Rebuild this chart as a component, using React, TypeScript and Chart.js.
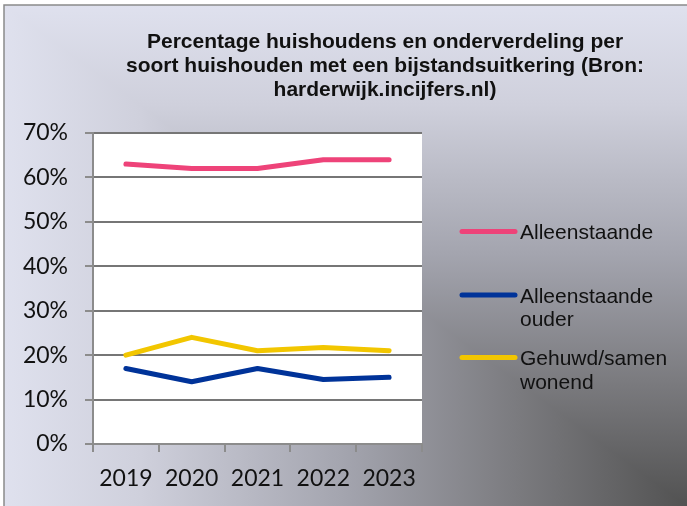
import React, { useEffect, useRef } from 'react';
import { Chart, registerables } from 'chart.js';

Chart.register(...registerables);

const years = ['2019', '2020', '2021', '2022', '2023'];
const alleenstaande = [63, 62, 62, 64, 64];
const alleenstaandeOuder = [17, 14, 17, 14.5, 15];
const gehuwdSamenwonend = [20, 24, 21, 21.7, 21];

const seriesNames = ['Alleenstaande', 'Alleenstaande ouder', 'Gehuwd/samen wonend'];
const legendLines = [['Alleenstaande'], ['Alleenstaande', 'ouder'], ['Gehuwd/samen', 'wonend']];
const seriesColors = ['#ee4379', '#003399', '#f2c600'];

const titleLines = [
  'Percentage huishoudens en onderverdeling per',
  'soort huishouden met een bijstandsuitkering (Bron:',
  'harderwijk.incijfers.nl)',
];

const W = 687;
const H = 506;

const backgroundPlugin = {
  id: 'bgPlugin',
  beforeDraw(chart: any) {
    const ctx = chart.ctx as CanvasRenderingContext2D;
    const x0 = 4;
    const y0 = 5;
    ctx.save();
    ctx.fillStyle = '#ffffff';
    ctx.fillRect(0, 0, W, H);
    const stops: [number, string][] = [
      [0, '#525252'],
      [0.25, '#7b7b7f'],
      [0.5, '#a3a4ae'],
      [0.8, '#cfd0dc'],
      [1, '#dfe1ee'],
    ];
    // whole box: vertical gradient
    const gv = ctx.createLinearGradient(0, H, 0, y0);
    stops.forEach(([t, c]) => gv.addColorStop(t, c));
    ctx.fillStyle = gv;
    ctx.fillRect(x0, y0, W - x0, H - y0);
    // lower-left triangle: horizontal gradient
    ctx.save();
    ctx.beginPath();
    ctx.moveTo(x0, y0);
    ctx.lineTo(x0 - 2, H + 2);
    ctx.lineTo(W, H);
    ctx.closePath();
    ctx.clip();
    const gh = ctx.createLinearGradient(W, 0, x0, 0);
    stops.forEach(([t, c]) => gh.addColorStop(t, c));
    ctx.fillStyle = gh;
    ctx.fillRect(x0, y0, W - x0, H - y0);
    ctx.restore();
    // border
    ctx.strokeStyle = '#8a8a8a';
    ctx.lineWidth = 1.5;
    ctx.beginPath();
    ctx.moveTo(x0, H);
    ctx.lineTo(x0, y0);
    ctx.lineTo(W, y0);
    ctx.stroke();
    // plot area
    const a = chart.chartArea;
    ctx.fillStyle = '#ffffff';
    ctx.fillRect(a.left, a.top, a.right - a.left, a.bottom - a.top);
    ctx.restore();
  },
  afterDraw(chart: any) {
    const ctx = chart.ctx as CanvasRenderingContext2D;
    ctx.save();
    // title
    ctx.fillStyle = '#111111';
    ctx.font = 'bold 21px "Liberation Sans", Arial, sans-serif';
    ctx.textAlign = 'center';
    ctx.textBaseline = 'alphabetic';
    titleLines.forEach((line, i) => {
      ctx.fillText(line, 385, 48 + i * 24);
    });
    // legend
    const legendY = [231.5, 295, 357.5];
    ctx.font = '21px "Liberation Sans", Arial, sans-serif';
    ctx.textAlign = 'left';
    chart.data.datasets.forEach((ds: any, i: number) => {
      const y = legendY[i];
      ctx.strokeStyle = ds.borderColor;
      ctx.lineWidth = 5;
      ctx.lineCap = 'round';
      ctx.beginPath();
      ctx.moveTo(462, y);
      ctx.lineTo(515, y);
      ctx.stroke();
      ctx.fillStyle = '#111111';
      legendLines[i].forEach((t, j) => {
        ctx.fillText(t, 520, y + 7.5 + j * 23.5);
      });
    });
    ctx.restore();
  },
};

export default function App() {
  const ref = useRef<HTMLCanvasElement | null>(null);
  useEffect(() => {
    if (!ref.current) return;
    const data = [alleenstaande, alleenstaandeOuder, gehuwdSamenwonend];
    const chart = new Chart(ref.current, {
      type: 'line',
      data: {
        labels: years,
        datasets: data.map((d, i) => ({
          label: seriesNames[i],
          data: d,
          borderColor: seriesColors[i],
          backgroundColor: seriesColors[i],
          borderWidth: 5,
          pointRadius: 0,
          tension: 0,
          borderCapStyle: 'round' as const,
          borderJoinStyle: 'round' as const,
        })),
      },
      options: {
        responsive: false,
        animation: false,
        layout: { padding: { left: 0, top: 133, right: 265, bottom: 0 } },
        plugins: {
          legend: { display: false },
          title: { display: false },
          tooltip: { enabled: false },
        },
        scales: {
          x: {
            offset: true,
            grid: {
              offset: true,
              drawOnChartArea: false,
              drawTicks: true,
              tickLength: 8,
              color: '#8c8c8c',
              lineWidth: 2,
            },
            border: { color: '#8c8c8c', width: 2 },
            ticks: {
              autoSkip: false,
              maxRotation: 0,
              padding: 13,
              color: '#111111',
              font: { family: 'Lato, "Open Sans", sans-serif', size: 23 },
            },
            afterFit(scale: any) {
              scale.height = 62;
            },
          },
          y: {
            min: 0,
            max: 70,
            ticks: {
              stepSize: 10,
              padding: 17,
              color: '#111111',
              font: { family: 'Lato, "Open Sans", sans-serif', size: 23 },
              callback: (v: any) => v + '%',
            },
            grid: {
              color: '#767676',
              lineWidth: 2,
              tickLength: 8,
              tickColor: '#8c8c8c',
            },
            border: { color: '#8c8c8c', width: 2 },
            afterFit(scale: any) {
              scale.width = 93;
            },
          },
        },
      },
      plugins: [backgroundPlugin],
    });
    return () => chart.destroy();
  }, []);
  return (
    <div style={{ position: 'absolute', left: 0, top: 0, width: W, height: H }}>
      <canvas ref={ref} width={W} height={H} style={{ display: 'block' }} />
    </div>
  );
}
